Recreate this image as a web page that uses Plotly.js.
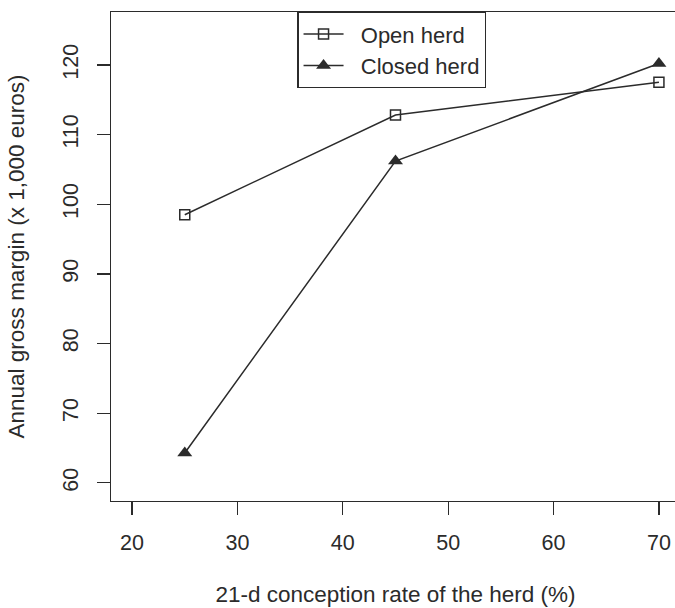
<!DOCTYPE html>
<html>
<head>
<meta charset="utf-8">
<script src="https://cdn.plot.ly/plotly-3.0.1.min.js"></script>
<style>
  html, body { margin: 0; padding: 0; overflow: hidden; background: #fff; }
  #chart { width: 680px; height: 608px; }
</style>
</head>
<body>
<div id="chart"></div>
<script>
// Data
const conceptionRate = [25, 45, 70];
const openHerd = [98.5, 112.8, 117.5];
const closedHerd = [64.3, 106.2, 120.2];
const seriesNames = ["Open herd", "Closed herd"];
const xTicks = [20, 30, 40, 50, 60, 70];
const yTicks = [60, 70, 80, 90, 100, 110, 120];

const ink = "#2b2b2b";
const fontFamily = "Liberation Sans, Arial, Helvetica, sans-serif";
const pad = "\u00a0\u00a0";

const traces = [
  {
    x: conceptionRate, y: openHerd, name: pad + seriesNames[0],
    type: "scatter", mode: "lines+markers",
    line: { color: ink, width: 1.5 },
    marker: { symbol: "square-open", size: 10, color: ink, line: { width: 1.5, color: ink } }
  },
  {
    x: conceptionRate, y: closedHerd, name: pad + seriesNames[1],
    type: "scatter", mode: "lines+markers",
    line: { color: ink, width: 1.5 },
    marker: { symbol: "triangle-up", size: 13, color: ink }
  }
];

const layout = {
  width: 680, height: 608,
  margin: { l: 111, r: 0, t: 12, b: 107 },
  paper_bgcolor: "#fff", plot_bgcolor: "#fff",
  font: { family: fontFamily, color: ink, size: 21 },
  showlegend: true,
  legend: {
    x: 0.3275, y: 1, xanchor: "left", yanchor: "top",
    bgcolor: "#fff", bordercolor: ink, borderwidth: 1.2,
    font: { size: 22, family: fontFamily, color: ink },
    itemwidth: 40, tracegroupgap: 0, entrywidth: 188, entrywidthmode: "pixels"
  },
  xaxis: {
    range: [18, 72], tickvals: xTicks, ticktext: xTicks.map(String),
    showgrid: false, zeroline: false,
    showline: true, mirror: true, linecolor: ink, linewidth: 1.2,
    ticks: "outside", ticklen: 13, tickwidth: 1.2, tickcolor: ink,
    tickfont: { size: 21.5 }, ticklabelstandoff: 9,
    title: { text: "21-d conception rate of the herd (%)", font: { size: 22.5 }, standoff: 32 }
  },
  yaxis: {
    range: [57.4, 127.6], tickvals: yTicks, ticktext: yTicks.map(String),
    showgrid: false, zeroline: false,
    showline: true, mirror: true, linecolor: ink, linewidth: 1.2,
    ticks: "outside", ticklen: 13, tickwidth: 1.2, tickcolor: ink,
    tickangle: -90, tickfont: { size: 21.5 }, ticklabelstandoff: 10,
    title: { text: "Annual gross margin (x 1,000 euros)", font: { size: 22.5 }, standoff: 28 }
  }
};

Plotly.newPlot("chart", traces, layout, { displayModeBar: false, staticPlot: true });
</script>
</body>
</html>
